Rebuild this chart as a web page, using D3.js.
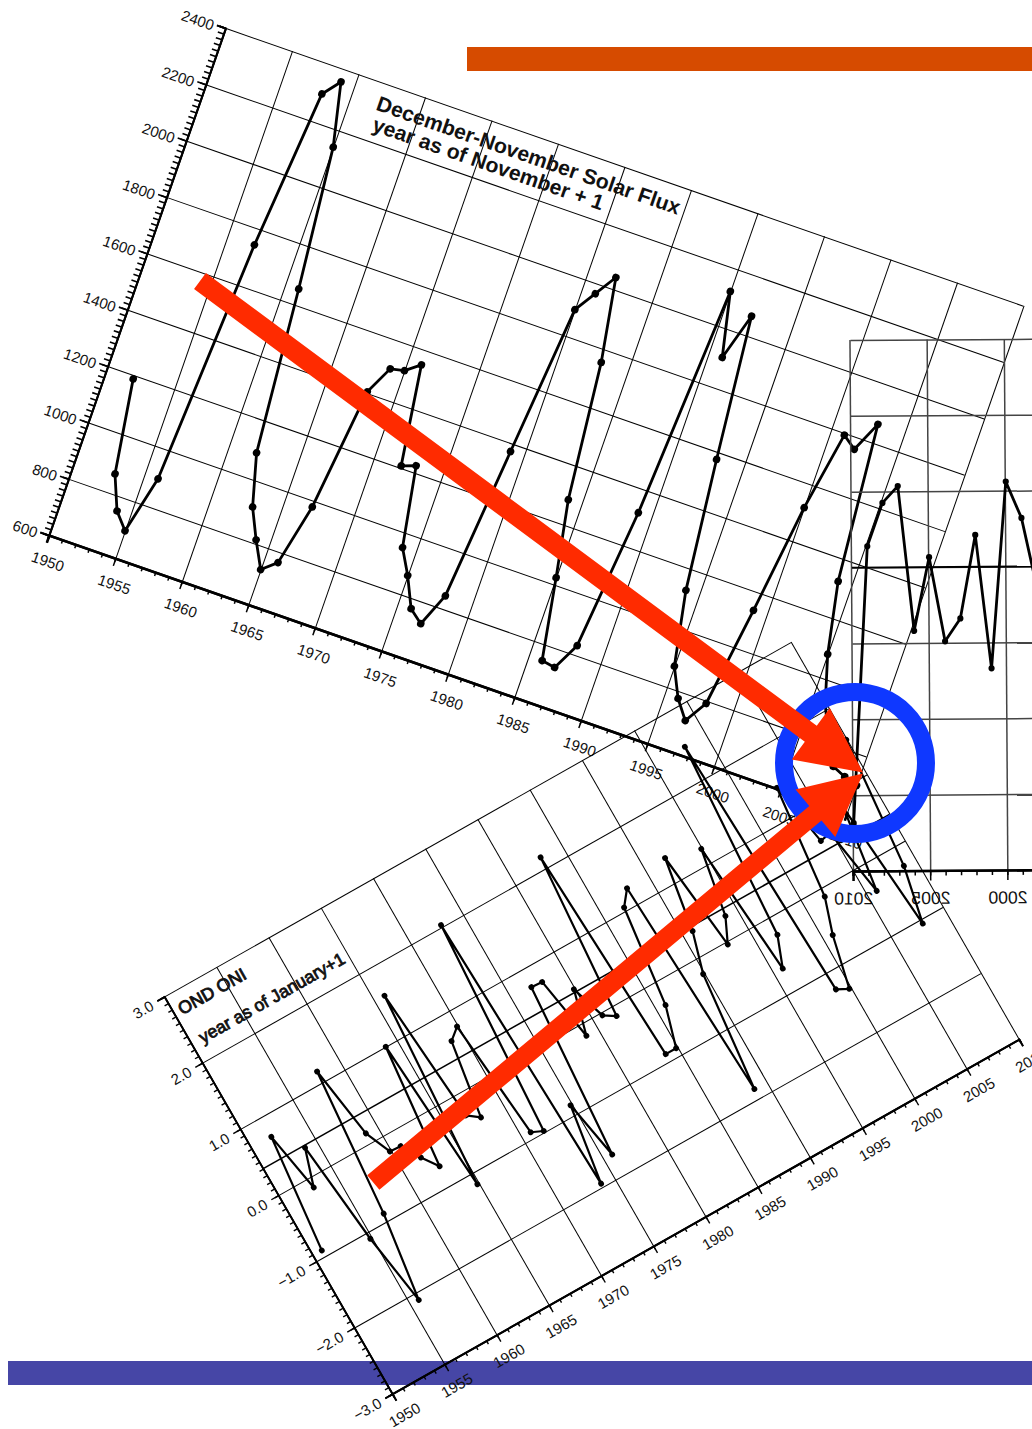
<!DOCTYPE html>
<html>
<head>
<meta charset="utf-8">
<script src="https://cdn.jsdelivr.net/npm/d3@7"></script>
<style>
  html, body { margin: 0; padding: 0; background: #fff; overflow: hidden; }
  svg { display: block; }
  text { font-family: "Liberation Sans", Arial, sans-serif; fill: #111; }
</style>
</head>
<body>
<div id="chart"></div>
<script>
// Solar flux, one point per year
const fluxYears = [1952,1953,1954,1955,1956,1957,1958,1959,1960,1961,1962,1963,1964,1965,1966,1967,1968,1969,1970,1971,
  1972,1973,1974,1975,1976,1977,1978,1979,1980,1981,1982,1983,1984,1985,1986,1987,1988,1989,1990,1991,
  1992,1993,1994,1995,1996,1997,1998,1999,2000,2001,2002,2003,2004,2005,2006,2007,2008,2009,2010];
const fluxValues = [1187,866,751,697,898,1745,2297,2356,2141,1654,1089,913,813,724,765,979,1404,1502,1512,1549,
  1207,1224,950,867,766,729,844,1373,1893,1966,2040,1755,1284,1024,746,738,832,1320,2122,1904,
  2067,1575,1127,874,776,714,791,1138,1519,1793,1759,1864,1323,1081,920,818,732,712,697];
const fluxYTicks = [600,800,1000,1200,1400,1600,1800,2000,2200,2400];

// OND ONI
const oniYears = [1951,1952,1953,1954,1955,1956,1957,1958,1959,1960,1961,1962,1963,1964,1965,1966,1967,1968,1969,1970,
  1971,1972,1973,1974,1975,1976,1977,1978,1979,1980,1981,1982,1983,1984,1985,1986,1987,1988,1989,1990,
  1991,1992,1993,1994,1995,1996,1997,1998,1999,2000,2001,2002,2003,2004,2005,2006,2007,2008,2009,2010];
const oniValues = [-0.91,0.71,-0.14,0.37,-1.09,-2.10,-0.89,1.16,0.14,-0.22,-0.23,-0.49,-0.71,1.00,-1.16,1.59,-0.30,-0.42,0.64,0.77,
  -0.91,-0.98,2.03,-1.95,-0.86,-1.69,0.74,0.73,-0.17,0.44,-0.04,-0.14,2.16,-0.89,-0.89,-0.33,1.05,1.25,-1.86,-0.22,
  0.34,1.35,-0.04,0.30,1.22,-0.67,-0.25,2.49,-1.25,-1.33,-0.61,-0.12,1.43,0.54,0.57,-0.39,0.77,-1.06,-0.28,1.53];
const oniYTicks = [-3,-2,-1,0,1,2,3];

// mirrored chart, no y labels are visible on the page
const thirdYears = [1998,1999,2000,2001,2002,2003,2004,2005,2006,2007,2008,2009,2010];
const thirdValues = [3.7,4.64,5.12,2.66,4.42,3.32,3.02,4.13,3.16,5.07,4.85,4.28,0.63];
const thirdYTicks = [0,1,2,3,4,5,6,7];
const thirdXTicks = [2000,2005,2010];

const yearTicks = [1950,1955,1960,1965,1970,1975,1980,1985,1990,1995,2000,2005,2010];
const allYears = d3.range(1950, 2011);

const svg = d3.select("#chart").append("svg").attr("width", 1032).attr("height", 1429);

// the two flat bars
svg.append("rect").attr("x", 467).attr("y", 47).attr("width", 565).attr("height", 24).attr("fill", "#d64b00");
svg.append("rect").attr("x", 8).attr("y", 1361).attr("width", 1024).attr("height", 24).attr("fill", "#4646a6");

function seriesLine(g, x, y, xs, ys, width, r) {
  const pts = xs.map((d, i) => [x(d), y(ys[i])]);
  g.append("path").attr("d", d3.line()(pts)).attr("fill", "none").attr("stroke", "#000")
    .attr("stroke-width", width).attr("stroke-linejoin", "round");
  g.selectAll("circle.pt").data(pts).enter().append("circle").attr("class", "pt")
    .attr("cx", d => d[0]).attr("cy", d => d[1]).attr("r", r).attr("fill", "#000");
}

function gridLines(g, xAxis, yAxis, height, width, color, sw) {
  g.append("g").call(xAxis.tickSize(height).tickFormat(""))
    .call(s => s.select(".domain").remove())
    .selectAll("line").attr("stroke", color).attr("stroke-width", sw);
  g.append("g").call(yAxis.tickSize(-width).tickFormat(""))
    .call(s => s.select(".domain").remove())
    .selectAll("line").attr("stroke", color).attr("stroke-width", sw);
}

function styleAxis(sel, domainW, tickW) {
  sel.select(".domain").attr("stroke", "#000").attr("stroke-width", domainW);
  sel.selectAll("line").attr("stroke", "#000").attr("stroke-width", tickW);
}

// ---- December-November Solar Flux ----
const g1 = svg.append("g").attr("transform", "translate(49,535) rotate(19.2)");
const x1 = d3.scaleLinear().domain([1950, 2010]).range([0, 845]);
const y1 = d3.scaleLinear().domain([600, 2400]).range([0, -537]);

gridLines(g1,
  d3.axisBottom(x1).tickValues(yearTicks),
  d3.axisLeft(y1).tickValues(fluxYTicks),
  -537, 845, "#000", 1);

g1.append("g").call(d3.axisBottom(x1).tickValues(allYears).tickSize(4).tickFormat(""))
  .call(styleAxis, 2.6, 1.5);
g1.append("g").call(d3.axisBottom(x1).tickValues(yearTicks).tickSize(8).tickPadding(12).tickFormat(d3.format("d")))
  .call(styleAxis, 2.6, 1.5)
  .call(s => s.selectAll("text").attr("dx", 7).style("font-size", "15px"));
g1.append("g").call(d3.axisLeft(y1).tickValues(d3.range(600, 2401, 20)).tickSize(6).tickFormat(""))
  .call(styleAxis, 2, 1.6);
g1.append("g").call(d3.axisLeft(y1).tickValues(fluxYTicks).tickSize(9).tickPadding(3).tickFormat(d3.format("d")))
  .call(styleAxis, 2, 1.6)
  .call(s => s.selectAll("text").attr("y", 2).style("font-size", "15px"));

seriesLine(g1, x1, y1, fluxYears, fluxValues, 2.8, 3.8);

g1.append("text").attr("x", 168).attr("y", -509).attr("font-weight", "bold")
  .style("font-size", "21.1px").text("December-November Solar Flux");
g1.append("text").attr("x", 171).attr("y", -488).attr("font-weight", "bold")
  .style("font-size", "21.1px").text("year as of November + 1");

// ---- mirrored chart, runs off the right of the page ----
const g3 = svg.append("g").attr("transform", "translate(854,871) rotate(-0.38) scale(-1,1)");
const x3 = d3.scaleLinear().domain([1995, 2010]).range([-231.5, 0]);
const y3 = d3.scaleLinear().domain([0, 7]).range([0, -531]);

gridLines(g3,
  d3.axisBottom(x3).tickValues(thirdXTicks),
  d3.axisRight(y3).tickValues(thirdYTicks),
  -531, 231.5, "#444", 1.5);
// heavier line at 4
g3.append("line").attr("x1", x3(1995)).attr("x2", x3(2010)).attr("y1", y3(4)).attr("y2", y3(4))
  .attr("stroke", "#000").attr("stroke-width", 1.8);

g3.append("g").call(d3.axisBottom(x3).tickValues(d3.range(1995, 2011)).tickSize(5).tickFormat(""))
  .call(styleAxis, 2.4, 1.5);
g3.append("g").call(d3.axisBottom(x3).tickValues(thirdXTicks).tickSize(10).tickPadding(11).tickFormat(d3.format("d")))
  .call(styleAxis, 2.4, 1.5)
  .call(s => s.selectAll("text").style("font-size", "17.6px"));

seriesLine(g3, x3, y3, thirdYears, thirdValues, 2.8, 3.1);

// ---- OND ONI ----
const g2 = svg.append("g").attr("transform", "translate(392,1394) rotate(-29.5)");
const x2 = d3.scaleLinear().domain([1950, 2010]).range([0, 720]);
const y2 = d3.scaleLinear().domain([-3, 3]).range([0, -458]);
// the frame leans a touch more than the data
const g2Frame = g2.append("g").attr("transform", "skewX(0.35)");

gridLines(g2Frame,
  d3.axisBottom(x2).tickValues(yearTicks),
  d3.axisLeft(y2).tickValues(oniYTicks),
  -458, 720, "#000", 1);
// heavier reference line
g2Frame.append("line").attr("x1", 0).attr("x2", 720).attr("y1", y2(0.4)).attr("y2", y2(0.4))
  .attr("stroke", "#000").attr("stroke-width", 1.6);

g2Frame.append("g").call(d3.axisBottom(x2).tickValues(allYears).tickSize(4).tickFormat(""))
  .call(styleAxis, 2, 1.4);
g2Frame.append("g").call(d3.axisBottom(x2).tickValues(yearTicks).tickSize(8).tickPadding(11).tickFormat(d3.format("d")))
  .call(styleAxis, 2, 1.4)
  .call(s => s.selectAll("text").style("font-size", "15px"));
g2Frame.append("g").call(d3.axisLeft(y2).tickValues(d3.range(-3, 3.01, 0.1)).tickSize(4).tickFormat(""))
  .call(styleAxis, 1.8, 1.4);
g2Frame.append("g").call(d3.axisLeft(y2).tickValues(oniYTicks).tickSize(8).tickPadding(6).tickFormat(d3.format(".1f")))
  .call(styleAxis, 1.8, 1.4)
  .call(s => s.selectAll("text").attr("y", 1).style("font-size", "15px"));

seriesLine(g2, x2, y2, oniYears.map(d => d - 0.2), oniValues, 2.2, 2.9);

g2.append("text").attr("x", 4).attr("y", -433)
  .style("font-size", "17.6px").attr("stroke", "#111").attr("stroke-width", 0.9).text("OND ONI");
g2.append("text").attr("x", 8).attr("y", -398)
  .style("font-size", "17.6px").attr("stroke", "#111").attr("stroke-width", 0.8).text("year as of January+1");

// ---- ring and arrows on top ----
svg.append("circle").attr("cx", 855).attr("cy", 763).attr("r", 71)
  .attr("fill", "none").attr("stroke", "#0f38ff").attr("stroke-width", 18);

function arrow(from, to, shaft, headW, headL) {
  const dx = to[0] - from[0], dy = to[1] - from[1], len = Math.hypot(dx, dy);
  const ux = dx / len, uy = dy / len, nx = -uy, ny = ux;
  const bx = to[0] - ux * headL, by = to[1] - uy * headL;
  const p = (x, y, k) => [x + nx * k, y + ny * k];
  const pts = [p(from[0], from[1], shaft / 2), p(bx, by, shaft / 2), p(bx, by, headW / 2), to,
    p(bx, by, -headW / 2), p(bx, by, -shaft / 2), p(from[0], from[1], -shaft / 2)];
  svg.append("polygon").attr("points", pts.map(d => d.join(",")).join(" ")).attr("fill", "#ff2b00");
}
arrow([200, 281], [863, 772.5], 20, 64, 65);
arrow([373.3, 1182.5], [863, 773.5], 19, 62, 62);
</script>
</body>
</html>
